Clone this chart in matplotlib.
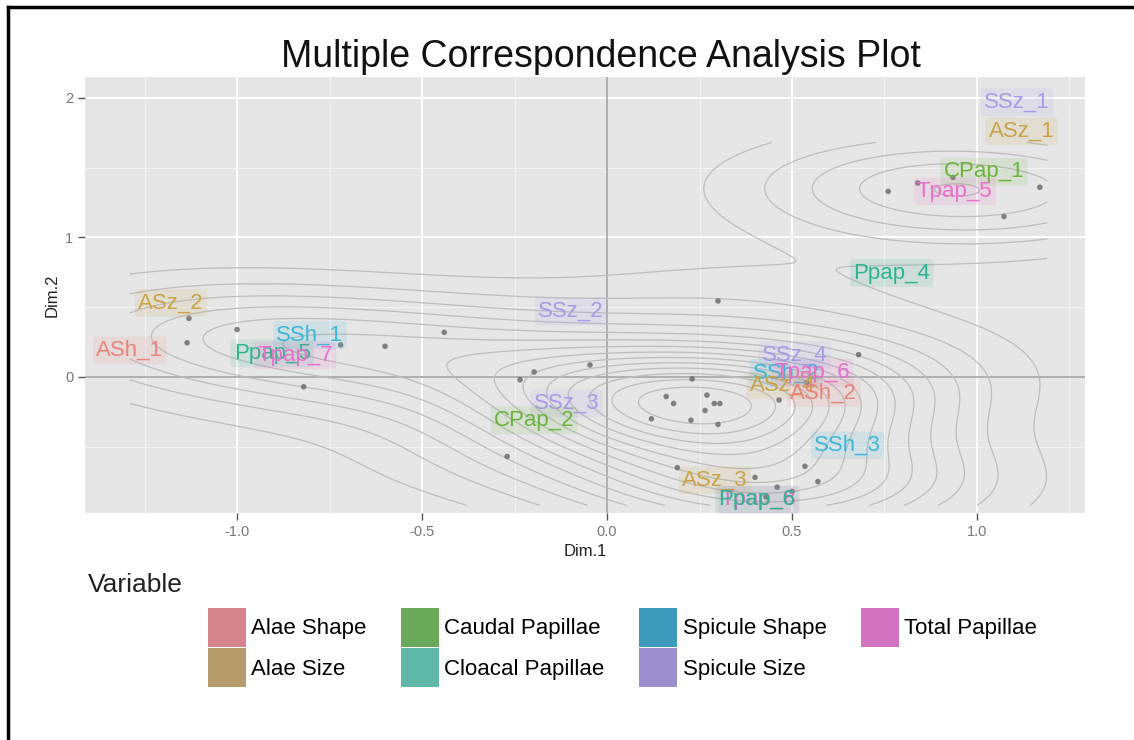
import matplotlib.pyplot as plt
import numpy as np
from matplotlib.patches import Patch
from matplotlib.lines import Line2D

plt.rcParams['font.family'] = ['Liberation Sans', 'DejaVu Sans']

# individuals (MCA row coordinates)
obs_x = [-1.13, -1.0, -1.135, -0.60, -0.44, -0.72, -0.82, -0.235, -0.197, -0.27,
         0.76, 0.84, 0.935, 1.17, 1.073, 0.30, 0.68, -0.046, 0.23, 0.16,
         0.18, 0.27, 0.265, 0.29, 0.305, 0.12, 0.227, 0.30, 0.465, 0.54,
         0.19, 0.40, 0.46, 0.535, 0.57, 0.50, 0.43]
obs_y = [0.42, 0.34, 0.245, 0.22, 0.32, 0.23, -0.07, -0.02, 0.036, -0.57,
         1.33, 1.39, 1.43, 1.36, 1.15, 0.545, 0.16, 0.086, -0.014, -0.14,
         -0.19, -0.13, -0.24, -0.19, -0.19, -0.30, -0.31, -0.34, -0.165, -0.04,
         -0.65, -0.72, -0.79, -0.64, -0.75, -0.82, -0.86]

# categories (MCA column coordinates)
cat_names = ['SSz_1', 'ASz_1', 'CPap_1', 'Tpap_5', 'Ppap_4', 'ASz_2', 'ASh_1',
             'SSh_1', 'Ppap_5', 'Tpap_7', 'SSz_2', 'SSz_3', 'CPap_2', 'SSz_4',
             'SSh_2', 'Tpap_6', 'ASz_4', 'ASh_2', 'SSh_3', 'ASz_3', 'Tpap_8', 'Ppap_6']
cat_var = ['Spicule Size', 'Alae Size', 'Caudal Papillae', 'Total Papillae',
           'Cloacal Papillae', 'Alae Size', 'Alae Shape', 'Spicule Shape',
           'Cloacal Papillae', 'Total Papillae', 'Spicule Size', 'Spicule Size',
           'Caudal Papillae', 'Spicule Size', 'Spicule Shape', 'Total Papillae',
           'Alae Size', 'Alae Shape', 'Spicule Shape', 'Alae Size',
           'Total Papillae', 'Cloacal Papillae']
cat_x = [1.108, 1.12, 1.019, 0.94, 0.77, -1.178, -1.29, -0.803, -0.905, -0.843,
         -0.097, -0.11, -0.197, 0.508, 0.485, 0.555, 0.475, 0.586, 0.65, 0.292,
         0.41, 0.405]
cat_y = [1.97, 1.76, 1.47, 1.33, 0.745, 0.53, 0.19, 0.30, 0.17, 0.155,
         0.47, -0.19, -0.31, 0.158, 0.03, 0.03, -0.06, -0.115, -0.49, -0.74,
         -0.88, -0.88]

variables = ['Alae Shape', 'Alae Size', 'Caudal Papillae', 'Cloacal Papillae',
             'Spicule Shape', 'Spicule Size', 'Total Papillae']
text_colors = ['#E8847E', '#C9A34A', '#6DB33F', '#2DB48E', '#3DB7D8', '#A99BE6', '#E96FCB']
key_colors = ['#D4868C', '#B59C6A', '#6BAA5A', '#62B8A8', '#3D9AB8', '#9C8FCF', '#D274BF']

fig = plt.figure(figsize=(11.34, 7.4), dpi=100)
ax = fig.add_axes([85 / 1134, 1 - 513 / 740, 1000 / 1134, 436 / 740])
ax.set_facecolor('#E6E6E6')
ax.set_xlim(-1.411, 1.292)
ax.set_ylim(-0.975, 2.15)

# grid
ax.set_xticks([-1.0, -0.5, 0.0, 0.5, 1.0])
ax.set_yticks([0, 1, 2])
ax.set_xticks([-1.25, -0.75, -0.25, 0.25, 0.75, 1.25], minor=True)
ax.set_yticks([-0.5, 0.5, 1.5], minor=True)
ax.grid(which='major', color='white', lw=1.4)
ax.grid(which='minor', color='#F3F3F3', lw=0.7)
ax.set_axisbelow(True)
for s in ax.spines.values():
    s.set_visible(False)
ax.set_xticklabels(['-1.0', '-0.5', '0.0', '0.5', '1.0'])
ax.tick_params(which='major', colors='#555555', labelcolor='#777777', labelsize=10.5,
               length=5, width=1)
ax.tick_params(which='minor', length=0)

ax.axhline(0, color='#A8A8A8', lw=1.3, zorder=1)
ax.axvline(0, color='#A8A8A8', lw=1.3, zorder=1)

# 2d kernel density of the individuals (bandwidth.nrd style, a bit smoother)
ox, oy = np.array(obs_x), np.array(obs_y)


def bw(v):
    q = np.percentile(v, [25, 75])
    return 1.06 * min(np.std(v, ddof=1), (q[1] - q[0]) / 1.34) * len(v) ** -0.2


hx, hy = 1.3 * bw(ox), 1.2 * bw(oy)
gx = np.linspace(-1.29, 1.19, 200)
gy = np.linspace(-0.92, 1.68, 200)
GX, GY = np.meshgrid(gx, gy)
Z = np.zeros_like(GX)
for px, py in zip(ox, oy):
    Z += np.exp(-0.5 * (((GX - px) / hx) ** 2 + ((GY - py) / hy) ** 2))
Z /= len(ox) * 2 * np.pi * hx * hy
levels = np.linspace(0, Z.max(), 16)[1:-1]
ax.contour(GX, GY, Z, levels=levels, colors='#BDBDBD', linewidths=0.9, zorder=2)

ax.scatter(obs_x, obs_y, s=16, color='#666666', alpha=0.8, edgecolors='none', zorder=3)

# category labels
for name, var, x, y in zip(cat_names, cat_var, cat_x, cat_y):
    c = text_colors[variables.index(var)]
    ax.text(x, y, name, color=c, fontsize=16, ha='center', va='center', zorder=4,
            bbox=dict(boxstyle='round,pad=0.15', facecolor=c, alpha=0.13, edgecolor='none'))

ax.set_xlabel('Dim.1', fontsize=12, color='#222222', labelpad=4)
ax.set_ylabel('Dim.2', fontsize=12, color='#222222', labelpad=4)
fig.text(601 / 1134, 1 - 57 / 740, 'Multiple Correspondence Analysis Plot',
         fontsize=27, ha='center', va='center', color='#111111')

# legend
fig.text(88 / 1134, 1 - 585 / 740, 'Variable', fontsize=19, ha='left', va='center',
         color='#222222')
handles = [Patch(facecolor=c, edgecolor='none') for c in key_colors]
fig.legend(handles, variables, loc='upper left', bbox_to_anchor=(208 / 1134, 1 - 608 / 740),
           ncol=4, frameon=False, fontsize=16, handlelength=1.7, handleheight=2.3,
           handletextpad=0.25, columnspacing=1.55, labelspacing=0.08,
           borderpad=0, borderaxespad=0)

# frame lines on top and left
fig.add_artist(Line2D([8 / 1134, 8 / 1134], [0, 1 - 7 / 740], transform=fig.transFigure,
                      color='black', lw=2.5))
fig.add_artist(Line2D([8 / 1134, 1], [1 - 7 / 740, 1 - 7 / 740], transform=fig.transFigure,
                      color='black', lw=2.5))

fig.savefig('out.png', dpi=100)
